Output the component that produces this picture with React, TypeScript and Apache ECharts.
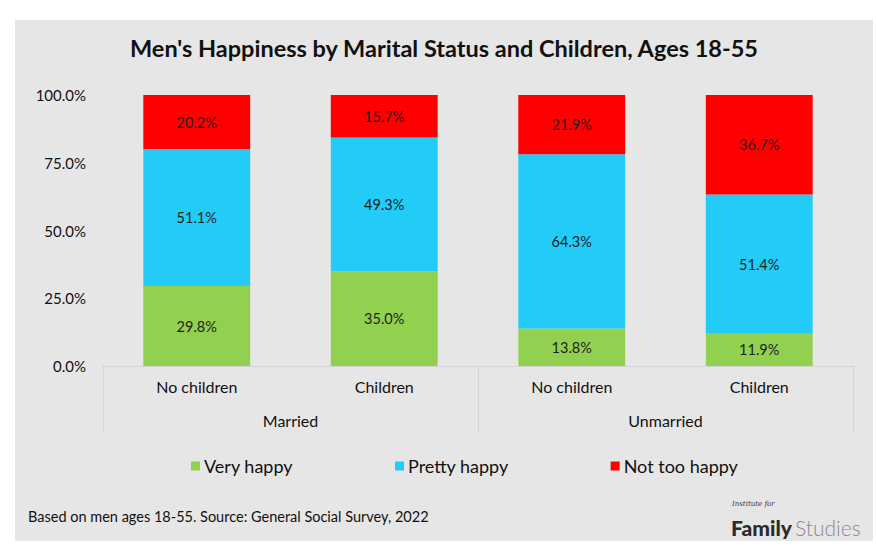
import React, { useEffect, useRef } from 'react';
import * as echarts from 'echarts';

const subCategories = ['No children', 'Children', 'No children', 'Children'];
const groups = ['Married', 'Unmarried'];
const seriesNames = ['Very happy', 'Pretty happy', 'Not too happy'];
const veryHappy = [29.8, 35.0, 13.8, 11.9];
const prettyHappy = [51.1, 49.3, 64.3, 51.4];
const notTooHappy = [20.2, 15.7, 21.9, 36.7];
const seriesColors = ['#92D050', '#22CCF7', '#FF0000'];
const yMin = 0;
const yMax = 100;
const yInterval = 25;

const FONT = 'Lato, "Open Sans", sans-serif';

export default function App() {
  const ref = useRef<HTMLDivElement>(null);
  useEffect(() => {
    if (!ref.current) return;
    const chart = echarts.init(ref.current, undefined, { renderer: 'svg' });
    const all = [veryHappy, prettyHappy, notTooHappy];
    const totals = subCategories.map((_, i) => all.reduce((s, arr) => s + arr[i], 0));
    const series = all.map((arr, si) => ({
      name: seriesNames[si],
      type: 'bar',
      stack: 'total',
      xAxisIndex: 0,
      yAxisIndex: 0,
      barWidth: '57%',
      itemStyle: { color: seriesColors[si] },
      label: {
        show: true,
        position: 'inside',
        color: '#1f1f1f',
        fontSize: 14.5,
        fontFamily: FONT,
        formatter: (p: any) => p.data.raw.toFixed(1) + '%',
      },
      data: arr.map((v, i) => ({ value: (v / totals[i]) * 100, raw: v })),
    }));

    chart.setOption({
      animation: false,
      backgroundColor: '#ffffff',
      textStyle: { fontFamily: FONT },
      graphic: [
        {
          type: 'rect',
          z: -10,
          silent: true,
          shape: { x: 15, y: 20, width: 858, height: 521 },
          style: { fill: '#E7E6E6' },
        },
        {
          type: 'text',
          x: 444,
          y: 48,
          style: {
            text: "Men's Happiness by Marital Status and Children, Ages 18-55",
            fontSize: 23.5,
            fontWeight: 'bold',
            fontFamily: FONT,
            fill: '#111111',
            align: 'center',
            verticalAlign: 'middle',
          },
        },
        {
          type: 'text',
          x: 28,
          y: 516,
          style: {
            text: 'Based on men ages 18-55. Source: General Social Survey, 2022',
            fontSize: 14.5,
            fontFamily: FONT,
            fill: '#111111',
            verticalAlign: 'middle',
          },
        },
        {
          type: 'text',
          x: 732,
          y: 500,
          style: {
            text: 'Institute for',
            fontSize: 7,
            fontStyle: 'italic',
            fontFamily: '"DejaVu Serif", serif',
            fill: '#333333',
          },
        },
        {
          type: 'text',
          x: 731,
          y: 527,
          style: {
            text: 'Family',
            fontSize: 21,
            fontWeight: 900,
            fontFamily: FONT,
            fill: '#2b2b2b',
            verticalAlign: 'middle',
          },
        },
        {
          type: 'text',
          x: 795,
          y: 527,
          style: {
            text: 'Studies',
            fontSize: 21,
            fontWeight: 300,
            fontFamily: FONT,
            fill: '#8a8a8a',
            verticalAlign: 'middle',
          },
        },
      ],
      legend: {
        left: 186,
        top: 452,
        itemWidth: 9,
        itemHeight: 9,
        itemGap: 102,
        icon: 'rect',
        data: seriesNames,
        textStyle: { fontSize: 18, color: '#111111', fontFamily: FONT, padding: [0, 0, 0, -1] },
      },
      grid: { left: 103, right: 23, top: 95, bottom: 187, containLabel: false },
      xAxis: [
        {
          type: 'category',
          data: subCategories,
          position: 'bottom',
          axisLine: { show: true, lineStyle: { color: '#D4D4D4', width: 1 } },
          axisTick: { show: false },
          axisLabel: { fontSize: 16, color: '#111111', margin: 12, fontFamily: FONT },
        },
        {
          type: 'category',
          data: groups,
          position: 'bottom',
          axisLine: { show: false },
          axisTick: { show: true, length: 66, lineStyle: { color: '#D4D4D4', width: 1 } },
          axisLabel: { fontSize: 16, color: '#111111', margin: 46, fontFamily: FONT },
        },
      ],
      yAxis: {
        type: 'value',
        min: yMin,
        max: yMax,
        interval: yInterval,
        axisLine: { show: false },
        axisTick: { show: false },
        splitLine: { show: false },
        axisLabel: {
          fontSize: 15,
          color: '#111111',
          margin: 17,
          fontFamily: FONT,
          formatter: (v: number) => v.toFixed(1) + '%',
        },
      },
      series,
    });
    return () => chart.dispose();
  }, []);
  return (
    <div
      ref={ref}
      style={{ position: 'fixed', left: 0, top: 0, width: 876, height: 553 }}
    />
  );
}
